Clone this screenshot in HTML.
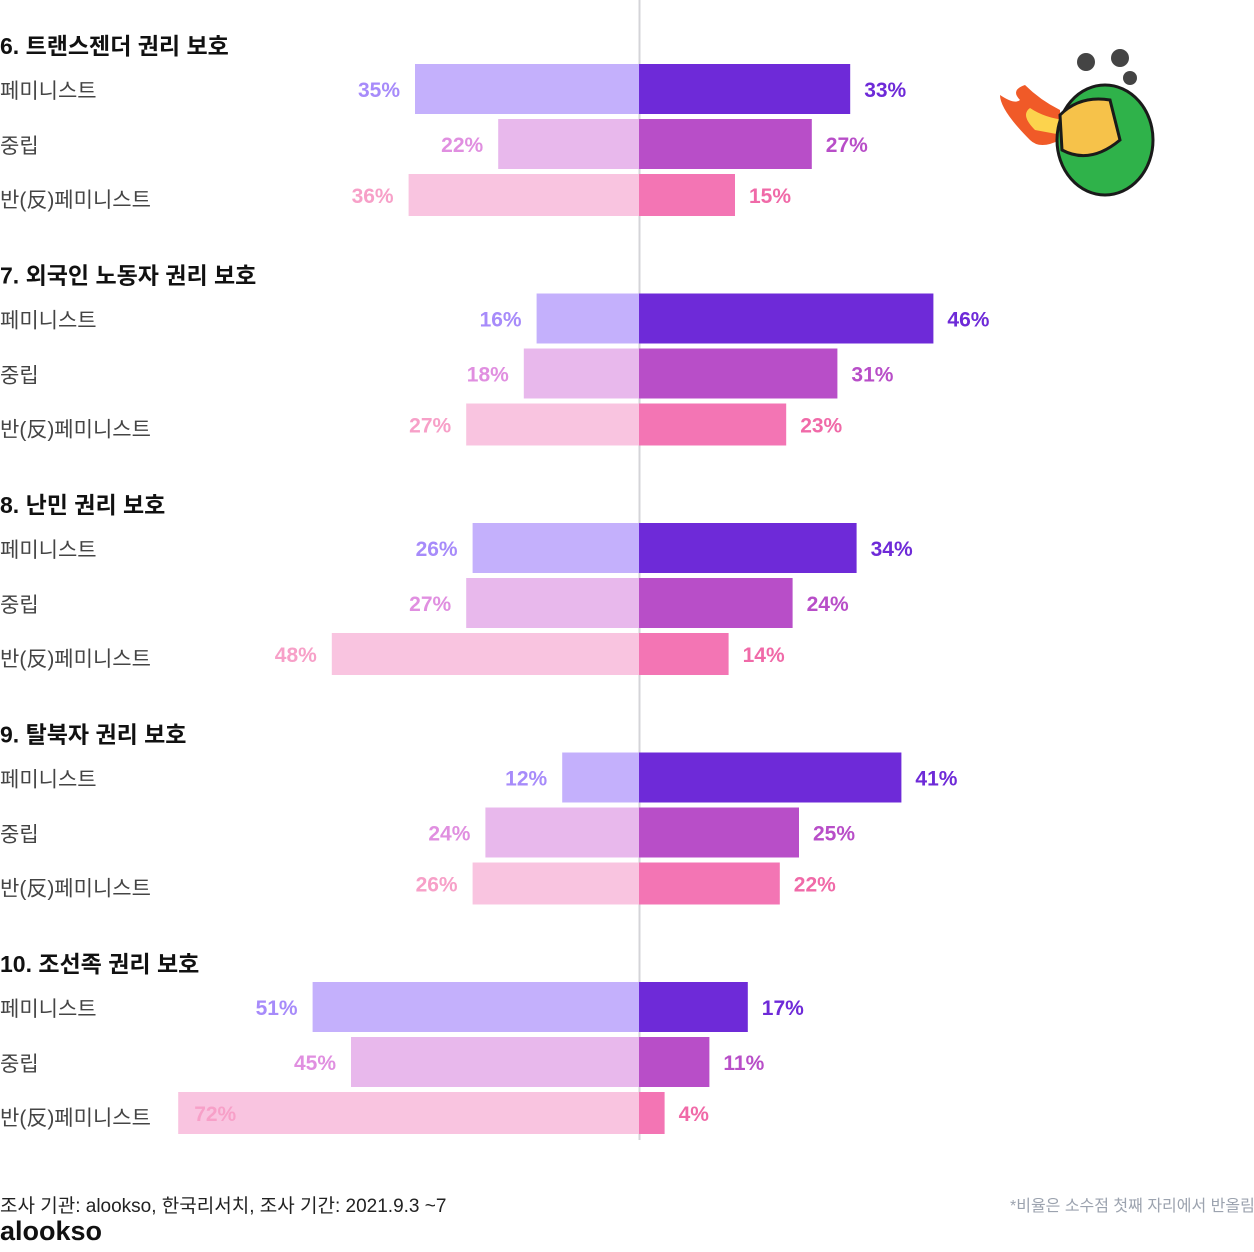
<!DOCTYPE html>
<html><head><meta charset="utf-8"><style>
body{margin:0;background:#fff;width:1254px;height:1247px;overflow:hidden;font-family:"Liberation Sans","Noto Sans CJK KR",sans-serif;}
svg text{font-family:"Liberation Sans","Noto Sans CJK KR",sans-serif;}
</style></head><body>
<svg id="chart" width="1254" height="1247" xmlns="http://www.w3.org/2000/svg">
<line x1="639.5" y1="0" x2="639.5" y2="1140" stroke="#d4d4d8" stroke-width="2"/>
<g>
<path d="M1030 140 Q1000 110 1000 95 Q1015 105 1020 100 Q1010 90 1025 85 Q1040 100 1060 110 L1060 140 Q1040 150 1030 140Z" fill="#f05a28"/>
<path d="M1035 130 Q1020 115 1030 108 Q1045 118 1065 120 L1062 135Z" fill="#fcd34d"/>
<ellipse cx="1105" cy="140" rx="48" ry="55" fill="#2fb24a" stroke="#1a1a1a" stroke-width="3"/>
<path d="M1060 115 Q1080 95 1110 100 L1120 140 Q1090 165 1062 150Z" fill="#f6c24a" stroke="#1a1a1a" stroke-width="3"/>
<circle cx="1086" cy="62" r="9" fill="#444"/><circle cx="1120" cy="58" r="9" fill="#444"/><circle cx="1130" cy="78" r="7" fill="#444"/>
</g>
<text x="0" y="1212" font-size="19" fill="#222">조사 기관: alookso, 한국리서치, 조사 기간: 2021.9.3 ~7</text>
<text x="0" y="1240" font-size="27" font-weight="bold" fill="#111">alookso</text>
<text x="1010" y="1211" font-size="16" fill="#9ca3af">*비율은 소수점 첫째 자리에서 반올림</text>
</svg>
<script>
const titles=["6. 트랜스젠더 권리 보호","7. 외국인 노동자 권리 보호","8. 난민 권리 보호","9. 탈북자 권리 보호","10. 조선족 권리 보호"];
const rowLabels=["페미니스트","중립","반(反)페미니스트"];
const leftVals=[[35,22,36],[16,18,27],[26,27,48],[12,24,26],[51,45,72]];
const rightVals=[[33,27,15],[46,31,23],[34,24,14],[41,25,22],[17,11,4]];
const leftFill=["#c4b0fc","#e8b8ec","#f9c4e0"],rightFill=["#6e2ad8","#b84ec8","#f375b4"];
const leftText=["#a78bfa","#e08fe0","#f7a0c8"],rightText=["#6e2ad8","#b84ec8","#f06aa8"];
const svg=document.getElementById('chart');const NS="http://www.w3.org/2000/svg";
const cx=639,k=6.4;
function x(v){return v*k;}
function mk(t,a){const e=document.createElementNS(NS,t);for(const n in a)e.setAttribute(n,a[n]);svg.appendChild(e);return e;}
titles.forEach((t,g)=>{
 const top=64+g*229.5;
 const tt=mk('text',{x:0,y:top-10,'font-size':23,'font-weight':'bold',fill:'#111'});tt.textContent=t;
 
 
 for(let r=0;r<3;r++){
  const y=top+r*55,h=r==2?42:50,mid=y+h/2;
  const lb=mk('text',{x:0,y:mid+9+(r==2?3:0),'font-size':21,fill:'#444'});lb.textContent=rowLabels[r];
  
  
  const lv=leftVals[g][r],rv=rightVals[g][r];
  const b1=mk('rect',{x:cx-x(lv),y:y,width:x(lv),height:h,fill:leftFill[r]});
  
  
  const b2=mk('rect',{x:cx,y:y,width:x(rv),height:h,fill:rightFill[r]});
  
  
  const inside=lv>60;
  const t1=mk('text',{x:inside?cx-x(lv)+16:cx-x(lv)-15,y:mid+8,'font-size':21,'font-weight':'bold',fill:leftText[r],'text-anchor':inside?'start':'end'});t1.textContent=lv+'%';
  
  
  const t2=mk('text',{x:cx+x(rv)+14,y:mid+8,'font-size':21,'font-weight':'bold',fill:rightText[r]});t2.textContent=rv+'%';
  
  
 }
});
</script>
</body></html>
